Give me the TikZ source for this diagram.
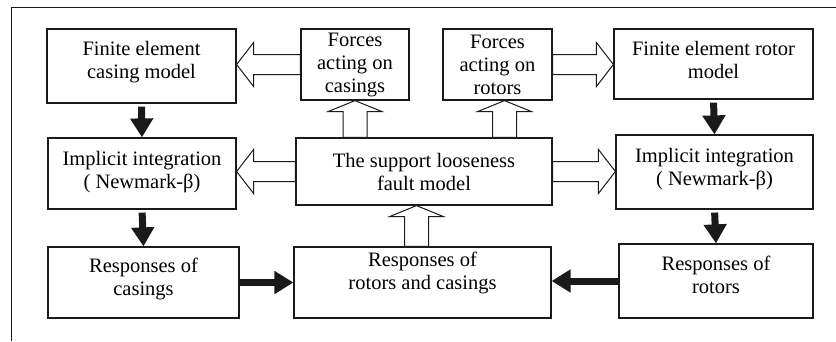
\documentclass[tikz,border=0pt]{standalone}
\usepackage{fontspec}
\setmainfont{Liberation Serif}
\usepackage{xcolor}
\definecolor{cLine}{HTML}{1A1A1A}
\usepackage{tikz}
\usetikzlibrary{positioning,arrows.meta,calc}
\tikzset{
  node-box/.style={draw=cLine,line width=1.2pt,align=center,inner sep=2pt,
    font=\fontsize{20.5}{23}\selectfont},
  text-up/.style={text depth=#1},
  arrow-solid/.style={-{Triangle[length=19pt,width=22pt]},line width=7pt,draw=cLine},
  arrow-hollow/.style={draw=cLine,line width=1pt,fill=white,line join=miter},
  frame-line/.style={draw=cLine,line width=1pt},
}
% wide open arrow, left or right, tip at #2
\newcommand{\hollowH}[2]{%
  \draw[arrow-hollow] let \p1=(#1), \p2=(#2), \n1={ifthenelse(\x2>\x1,1,-1)} in
    (\x1,\y2+10pt) -- (\x2-\n1*17pt,\y2+10pt) -- (\x2-\n1*17pt,\y2+22pt)
    -- (\x2,\y2) -- (\x2-\n1*17pt,\y2-22pt) -- (\x2-\n1*17pt,\y2-10pt)
    -- (\x1,\y2-10pt) -- cycle;}
% wide open arrow, up or down, tip at #2
\newcommand{\hollowV}[2]{%
  \draw[arrow-hollow] let \p1=(#1), \p2=(#2), \n1={ifthenelse(\y2>\y1,1,-1)} in
    (\x2-12pt,\y1) -- (\x2-12pt,\y2-\n1*11pt) -- (\x2-27pt,\y2-\n1*11pt)
    -- (\x2,\y2) -- (\x2+27pt,\y2-\n1*11pt) -- (\x2+12pt,\y2-\n1*11pt)
    -- (\x2+12pt,\y1) -- cycle;}

\begin{document}
\begin{tikzpicture}[x=1pt,y=-1pt]
  \useasboundingbox (0,0) rectangle (836,341);
  \draw[frame-line] (11,341) -- (11,7) -- (836,7);
  % top row
  \node[node-box,minimum width=189pt,minimum height=74pt,text-up=12pt] (fecasing) at (141.5,66)
    {Finite element\\casing model};
  \node[node-box,minimum width=108pt,minimum height=71pt] (forcecasing) at (355,64.5)
    {Forces\\acting on\\casings};
  \node[node-box,minimum width=109pt,minimum height=71pt] (forcerotor) at (497.5,64.5)
    {Forces\\acting on\\rotors};
  \node[node-box,minimum width=199pt,minimum height=70pt,text-up=8pt] (ferotor) at (713.5,64)
    {Finite element rotor\\model};
  % middle row
  \node[node-box,minimum width=188pt,minimum height=71pt,text-up=7pt] (implcasing) at (142,173.5)
    {Implicit integration\\( Newmark-β)};
  \node[node-box,minimum width=256pt,minimum height=67pt] (fault) at (424,171.5)
    {The support looseness\\fault model};
  \node[node-box,minimum width=197pt,minimum height=74pt,text-up=11pt] (implrotor) at (714.5,172)
    {Implicit integration\\( Newmark-β)};
  % bottom row
  \node[node-box,minimum width=191pt,minimum height=71pt,text-up=12pt] (respcasing) at (143.5,282.5)
    {Responses of\\casings};
  \node[node-box,minimum width=257pt,minimum height=71pt,text-up=24pt] (respboth) at (422.5,282.5)
    {Responses of\\rotors and casings};
  \node[node-box,minimum width=194pt,minimum height=74pt,text-up=12pt] (resprotor) at (716,281)
    {Responses of\\rotors};
  % forces into the models
  \hollowH{forcecasing.west}{forcecasing.west -| fecasing.east}
  \hollowH{forcerotor.east}{forcerotor.east -| ferotor.west}
  \hollowH{fault.west}{fault.west -| implcasing.east}
  \hollowH{fault.east}{fault.east -| implrotor.west}
  \coordinate (uprotor) at ($(forcerotor.south)+(7,0)$);
  \coordinate (upfault) at ($(respboth.north)+(-6,0)$);
  \hollowV{forcecasing.south |- fault.north}{forcecasing.south}
  \hollowV{uprotor |- fault.north}{uprotor}
  \hollowV{upfault}{upfault |- fault.south}
  % solution steps
  \draw[arrow-solid,shorten <=3pt] (fecasing.south) -- (implcasing.north);
  \draw[arrow-solid,shorten <=3pt] (implcasing.south) -- (respcasing.north);
  \draw[arrow-solid,shorten <=3pt] (ferotor.south) -- (implrotor.north);
  \draw[arrow-solid,shorten <=3pt] (implrotor.south) -- (resprotor.north);
  \draw[arrow-solid] (respcasing.east) -- (respcasing.east -| respboth.west);
  \draw[arrow-solid] (resprotor.west) -- (resprotor.west -| respboth.east);
\end{tikzpicture}
\end{document}
